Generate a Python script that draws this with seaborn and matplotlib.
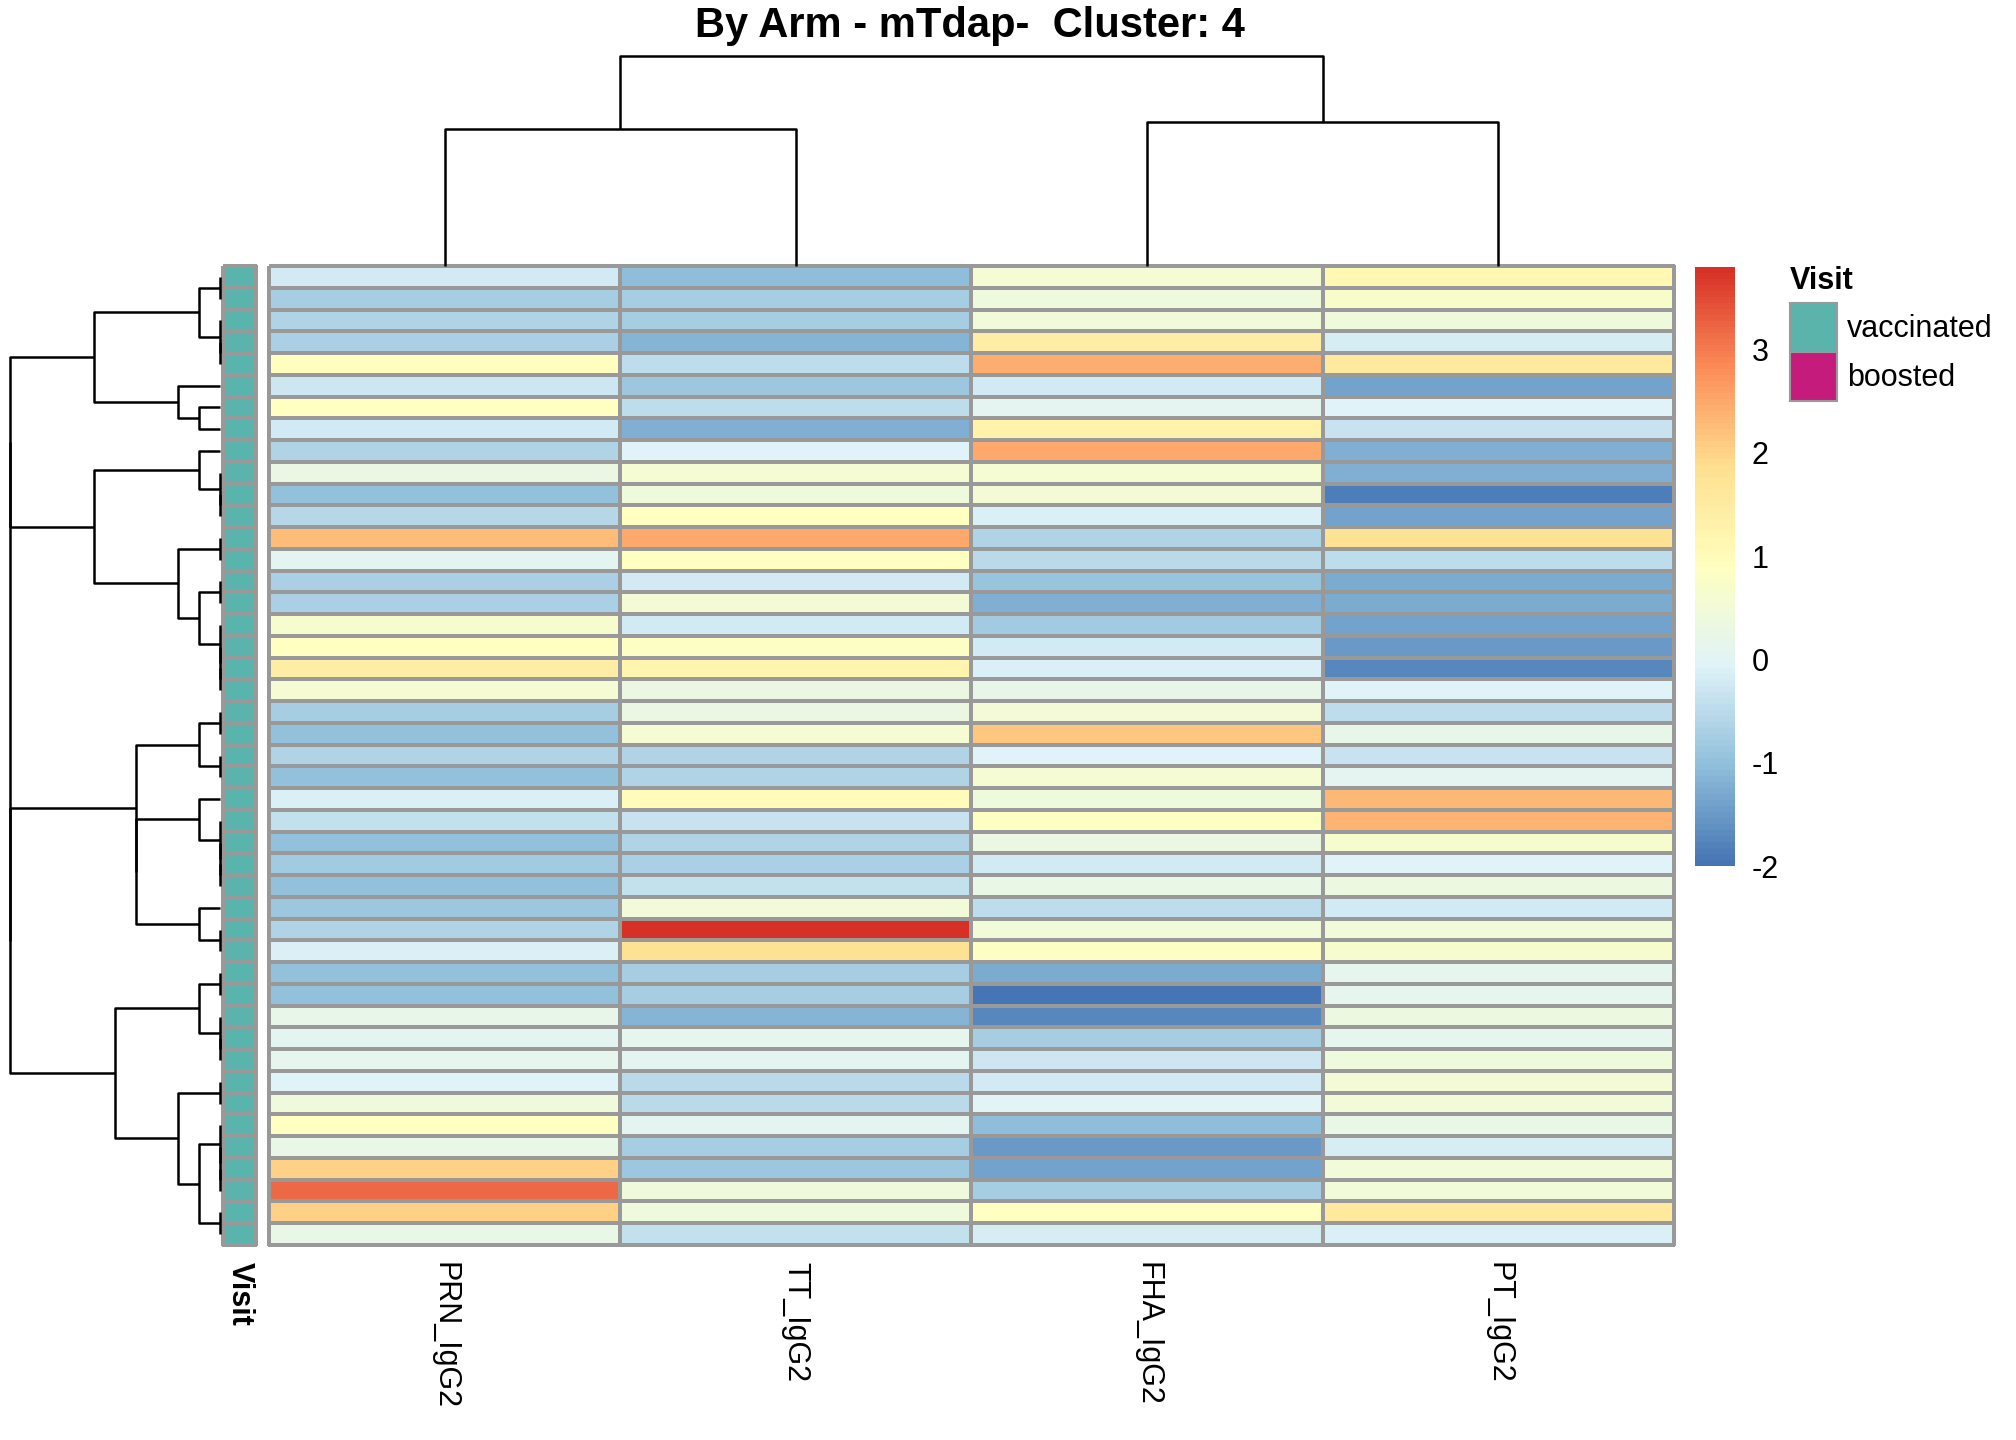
import matplotlib
matplotlib.use("Agg")
import matplotlib.pyplot as plt
import matplotlib.patches as mpatches
from matplotlib.colors import LinearSegmentedColormap, ListedColormap
import pandas as pd
import seaborn as sns

# values per row, top to bottom in displayed (clustered) order
PRN_IgG2 = [-0.25, -0.74, -0.64, -0.72, 0.90, -0.27, 0.88, -0.22, -0.62, 0.29,
            -0.96, -0.57, 2.27, 0.07, -0.72, -0.72, 0.65, 0.85, 1.46, 0.60,
            -0.74, -1.01, -0.64, -1.00, -0.13, -0.41, -1.01, -0.79, -1.00, -0.87,
            -0.64, -0.13, -1.00, -1.00, 0.20, 0.08, 0.10, -0.06, 0.40, 0.88,
            0.22, 2.03, 3.20, 2.03, 0.25]
TT_IgG2 = [-1.06, -0.74, -0.74, -1.15, -0.48, -0.87, -0.47, -1.20, -0.06, 0.60,
           0.43, 0.88, 2.50, 0.88, -0.24, 0.53, -0.24, 0.82, 1.24, 0.29,
           0.29, 0.60, -0.64, -0.65, 1.00, -0.35, -0.65, -0.71, -0.41, 0.45,
           3.80, 1.82, -0.74, -0.74, -1.18, 0.10, 0.03, -0.55, -0.55, 0.08,
           -0.78, -0.87, 0.43, 0.40, -0.41]
FHA_IgG2 = [0.60, 0.40, 0.45, 1.47, 2.46, -0.24, 0.08, 1.27, 2.50, 0.58,
            0.50, -0.12, -0.65, -0.54, -0.95, -1.23, -0.83, -0.24, -0.12, 0.20,
            0.52, 2.17, -0.06, 0.58, 0.38, 0.82, 0.28, -0.24, 0.24, -0.48,
            0.45, 0.80, -1.28, -2.00, -1.73, -0.73, -0.30, -0.22, 0.02, -1.02,
            -1.48, -1.40, -0.75, 0.85, -0.20]
PT_IgG2 = [1.15, 0.70, 0.38, -0.15, 1.59, -1.41, -0.05, -0.35, -1.23, -1.22,
           -1.88, -1.38, 1.80, -0.47, -1.28, -1.27, -1.40, -1.48, -1.73, -0.06,
           -0.46, 0.15, -0.32, 0.08, 2.33, 2.35, 0.62, -0.07, 0.36, -0.22,
           0.45, 0.62, 0.10, 0.10, 0.36, 0.10, 0.38, 0.50, 0.45, 0.25,
           -0.20, 0.47, 0.45, 1.55, -0.12]
COLUMNS = ["PRN_IgG2", "TT_IgG2", "FHA_IgG2", "PT_IgG2"]
VISIT = ["vaccinated"] * 45
VISIT_LEVELS = ["vaccinated", "boosted"]
VISIT_COLORS = ["#5AB4AC", "#C51B7D"]

# dendrograms: [height, left, right], leaves are row/column indices
ROW_TREE = [630,
            [630,
             [377,
              [62, [0, 0, 1], [0, 2, [0, 3, 4]]],
              [125, 5, [62, 6, 7]]],
             [377,
              [62, 8, [0, 9, [0, 10, 11]]],
              [125, [0, 12, 13],
               [62, [0, 14, 15], [0, 16, [0, 17, [0, 18, 19]]]]]]],
            [630,
             [252,
              [62, [0, 20, 21], [0, 22, 23]],
              [252,
               [62, 24, [0, 25, [0, 26, [0, 27, 28]]]],
               [62, 29, [0, 30, 31]]]],
             [315,
              [62, [0, 32, 33], [0, 34, [0, 35, 36]]],
              [125, [0, 37, 38],
               [62, [0, 39, [0, 40, [0, 41, 42]]], [0, 43, 44]]]]]]
COL_TREE = [209, [136, 0, 1], [143, 2, 3]]

PALETTE = ["#4575B4", "#91BFDB", "#E0F3F8", "#FFFFBF", "#FEE090", "#FC8D59", "#D73027"]
BORDER = "#999999"
W, H = 2016, 1440


def fig_rect(x0, y0, x1, y1):
    return [x0 / W, 1 - y1 / H, (x1 - x0) / W, (y1 - y0) / H]


def draw_tree(ax, node, orient):
    if isinstance(node, int):
        return node + 0.5, 0
    h, left, right = node
    p1, h1 = draw_tree(ax, left, orient)
    p2, h2 = draw_tree(ax, right, orient)
    hs = [h1, h, h, h2]
    ps = [p1, p1, p2, p2]
    if orient == "left":
        ax.plot(hs, ps, color="black", lw=1.8, clip_on=False, solid_capstyle="butt")
    else:
        ax.plot(ps, hs, color="black", lw=1.8, clip_on=False, solid_capstyle="butt")
    return (p1 + p2) / 2, h


sns.set_style("white")
plt.rcParams["font.family"] = ["Liberation Sans", "DejaVu Sans"]
plt.rcParams["axes.unicode_minus"] = False
plt.rcParams["text.color"] = "black"
plt.rcParams["xtick.color"] = "black"
plt.rcParams["ytick.color"] = "black"

df = pd.DataFrame({"PRN_IgG2": PRN_IgG2, "TT_IgG2": TT_IgG2,
                   "FHA_IgG2": FHA_IgG2, "PT_IgG2": PT_IgG2})[COLUMNS]
cmap = LinearSegmentedColormap.from_list("rdylbu_rev", PALETTE, N=100)

fig = plt.figure(figsize=(W / 100, H / 100), dpi=100)

ax_heat = fig.add_axes(fig_rect(269, 266, 1674, 1245))
ax_cbar = fig.add_axes(fig_rect(1695, 267, 1735, 866))
sns.heatmap(df, ax=ax_heat, cmap=cmap, vmin=min(df.min()), vmax=max(df.max()),
            linewidths=1.5, linecolor=BORDER, cbar_ax=ax_cbar,
            xticklabels=True, yticklabels=False)
ax_heat.collections[0].set_clip_on(False)
ax_heat.set_xticklabels(COLUMNS, rotation=270, ha="center", va="top",
                        fontsize=22, color="black")
ax_heat.tick_params(axis="x", length=0, pad=12)
ax_heat.set_xlabel("")

cbar = ax_heat.collections[0].colorbar
cbar.outline.set_visible(False)
cbar.set_ticks([-2, -1, 0, 1, 2, 3])
cbar.ax.tick_params(length=0, labelsize=22, pad=12, labelcolor="black")

# annotation column
ax_ann = fig.add_axes(fig_rect(223, 266, 256, 1245))
codes = pd.DataFrame({"Visit": [VISIT_LEVELS.index(v) for v in VISIT]})
sns.heatmap(codes, ax=ax_ann, cmap=ListedColormap(VISIT_COLORS), vmin=0, vmax=1,
            cbar=False, linewidths=1.5, linecolor=BORDER,
            xticklabels=["Visit"], yticklabels=False)
ax_ann.collections[0].set_clip_on(False)
ax_ann.set_xticklabels(["Visit"], rotation=270, ha="center", va="top",
                       fontsize=22, fontweight="bold", color="black")
ax_ann.tick_params(axis="x", length=0, pad=12)

# row dendrogram
ax_row = fig.add_axes(fig_rect(10, 266, 220, 1245))
ax_row.set_xlim(ROW_TREE[0], 0)
ax_row.set_ylim(len(VISIT), 0)
draw_tree(ax_row, ROW_TREE, "left")
ax_row.axis("off")

# column dendrogram
ax_col = fig.add_axes(fig_rect(269, 56, 1674, 266))
ax_col.set_xlim(0, len(COLUMNS))
ax_col.set_ylim(0, COL_TREE[0])
draw_tree(ax_col, COL_TREE, "top")
ax_col.axis("off")

# legend for Visit
fig.text(1790 / W, 1 - 281 / H, "Visit", fontsize=22, fontweight="bold",
         ha="left", va="center", color="black")
for i, (lab, col) in enumerate(zip(VISIT_LEVELS, VISIT_COLORS)):
    y0 = 303 + i * 49
    fig.add_artist(mpatches.Rectangle((1790 / W, 1 - (y0 + 49) / H), 47 / W, 49 / H,
                                      transform=fig.transFigure, facecolor=col,
                                      edgecolor=BORDER, lw=1.5))
    fig.text(1847 / W, 1 - (y0 + 26) / H, lab, fontsize=22, ha="left", va="center",
             color="black")

fig.text(970 / W, 1 - 26 / H, "By Arm - mTdap-  Cluster: 4", fontsize=30,
         fontweight="bold", ha="center", va="center", color="black")

fig.savefig("out.png", dpi=100)
